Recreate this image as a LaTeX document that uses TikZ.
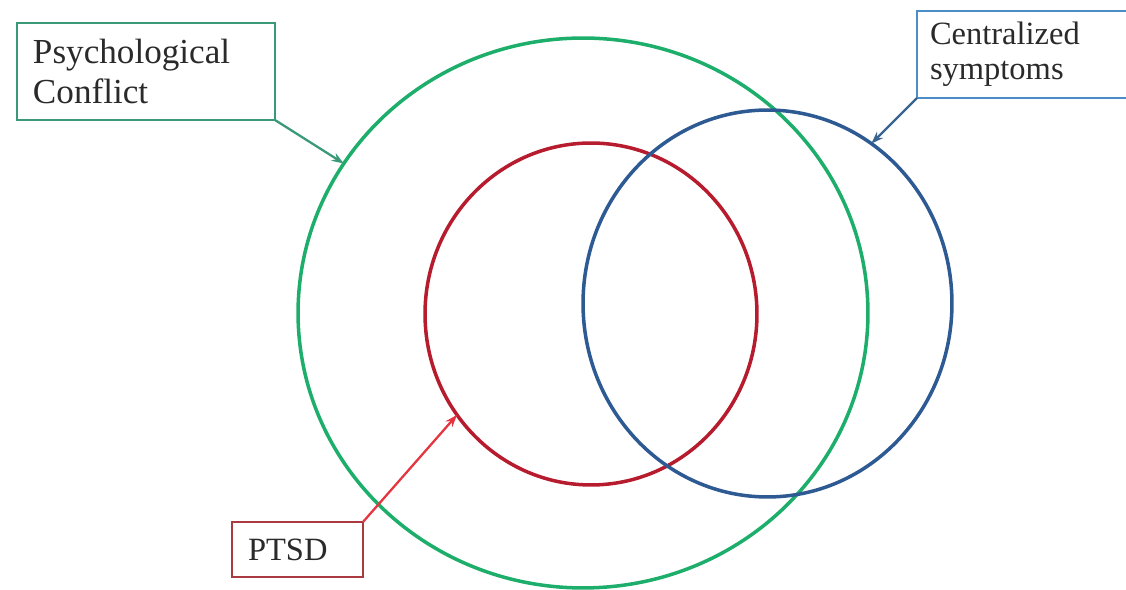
\documentclass[tikz,border=0pt]{standalone}
\usepackage{fontspec}
\setmainfont{Liberation Serif}
\usetikzlibrary{arrows.meta,shapes.geometric}
\definecolor{RingGreen}{HTML}{1EAE6B}
\definecolor{BoxGreen}{HTML}{3A9A78}
\definecolor{RingRed}{HTML}{B71C2E}
\definecolor{BoxRed}{HTML}{A83A40}
\definecolor{ArrowRed}{HTML}{E53540}
\definecolor{RingBlue}{HTML}{2E5A94}
\definecolor{BoxBlue}{HTML}{4C8DC6}
\definecolor{ArrowBlue}{HTML}{3A6490}
\definecolor{Ink}{HTML}{2A2A2A}

\begin{document}
\begin{tikzpicture}[x=0.02cm,y=-0.02cm,
    ring/.style={ellipse,draw,line width=2pt,inner sep=0pt,outer sep=0pt},
    label box/.style={draw,line width=1.5pt,anchor=north west,align=left,inner ysep=0pt,outer sep=0pt,text=Ink},
    pointer/.style={line width=1.3pt,-{Stealth[length=7pt,width=5pt]}}]
        \useasboundingbox (0,0) rectangle (1126,590);
        \node[ring,draw=RingGreen,minimum width=11.4cm,minimum height=11cm] (conflict) at (583,313) {};
        \node[ring,draw=RingRed,minimum width=6.64cm,minimum height=6.84cm] (ptsd) at (591,314) {};
        \node[ring,draw=RingBlue,minimum width=7.38cm,minimum height=7.74cm] (central) at (767.5,303.5) {};
        \node[label box,draw=BoxGreen,inner xsep=0.32cm,text width=4.52cm,minimum height=1.94cm,font=\fontsize{20}{22.7}\selectfont] (conflictbox) at (17,23) {Psychological\\Conflict};
        \node[label box,draw=BoxBlue,inner xsep=0.26cm,text width=3.94cm,minimum height=1.74cm,font=\fontsize{18.5}{20}\selectfont] (centralbox) at (917,11) {Centralized\\symptoms};
        \node[label box,draw=BoxRed,inner xsep=0.32cm,text width=1.98cm,minimum height=1.1cm,font=\fontsize{18.5}{20}\selectfont] (ptsdbox) at (232,522) {PTSD};
        \draw[pointer,BoxGreen] (conflictbox.south east) -- (conflict.148);
        \draw[pointer,ArrowBlue] (centralbox.south west) -- (central.57);
        \draw[pointer,ArrowRed] (ptsdbox.north east) -- (ptsd.217);
      \end{tikzpicture}
\end{document}
